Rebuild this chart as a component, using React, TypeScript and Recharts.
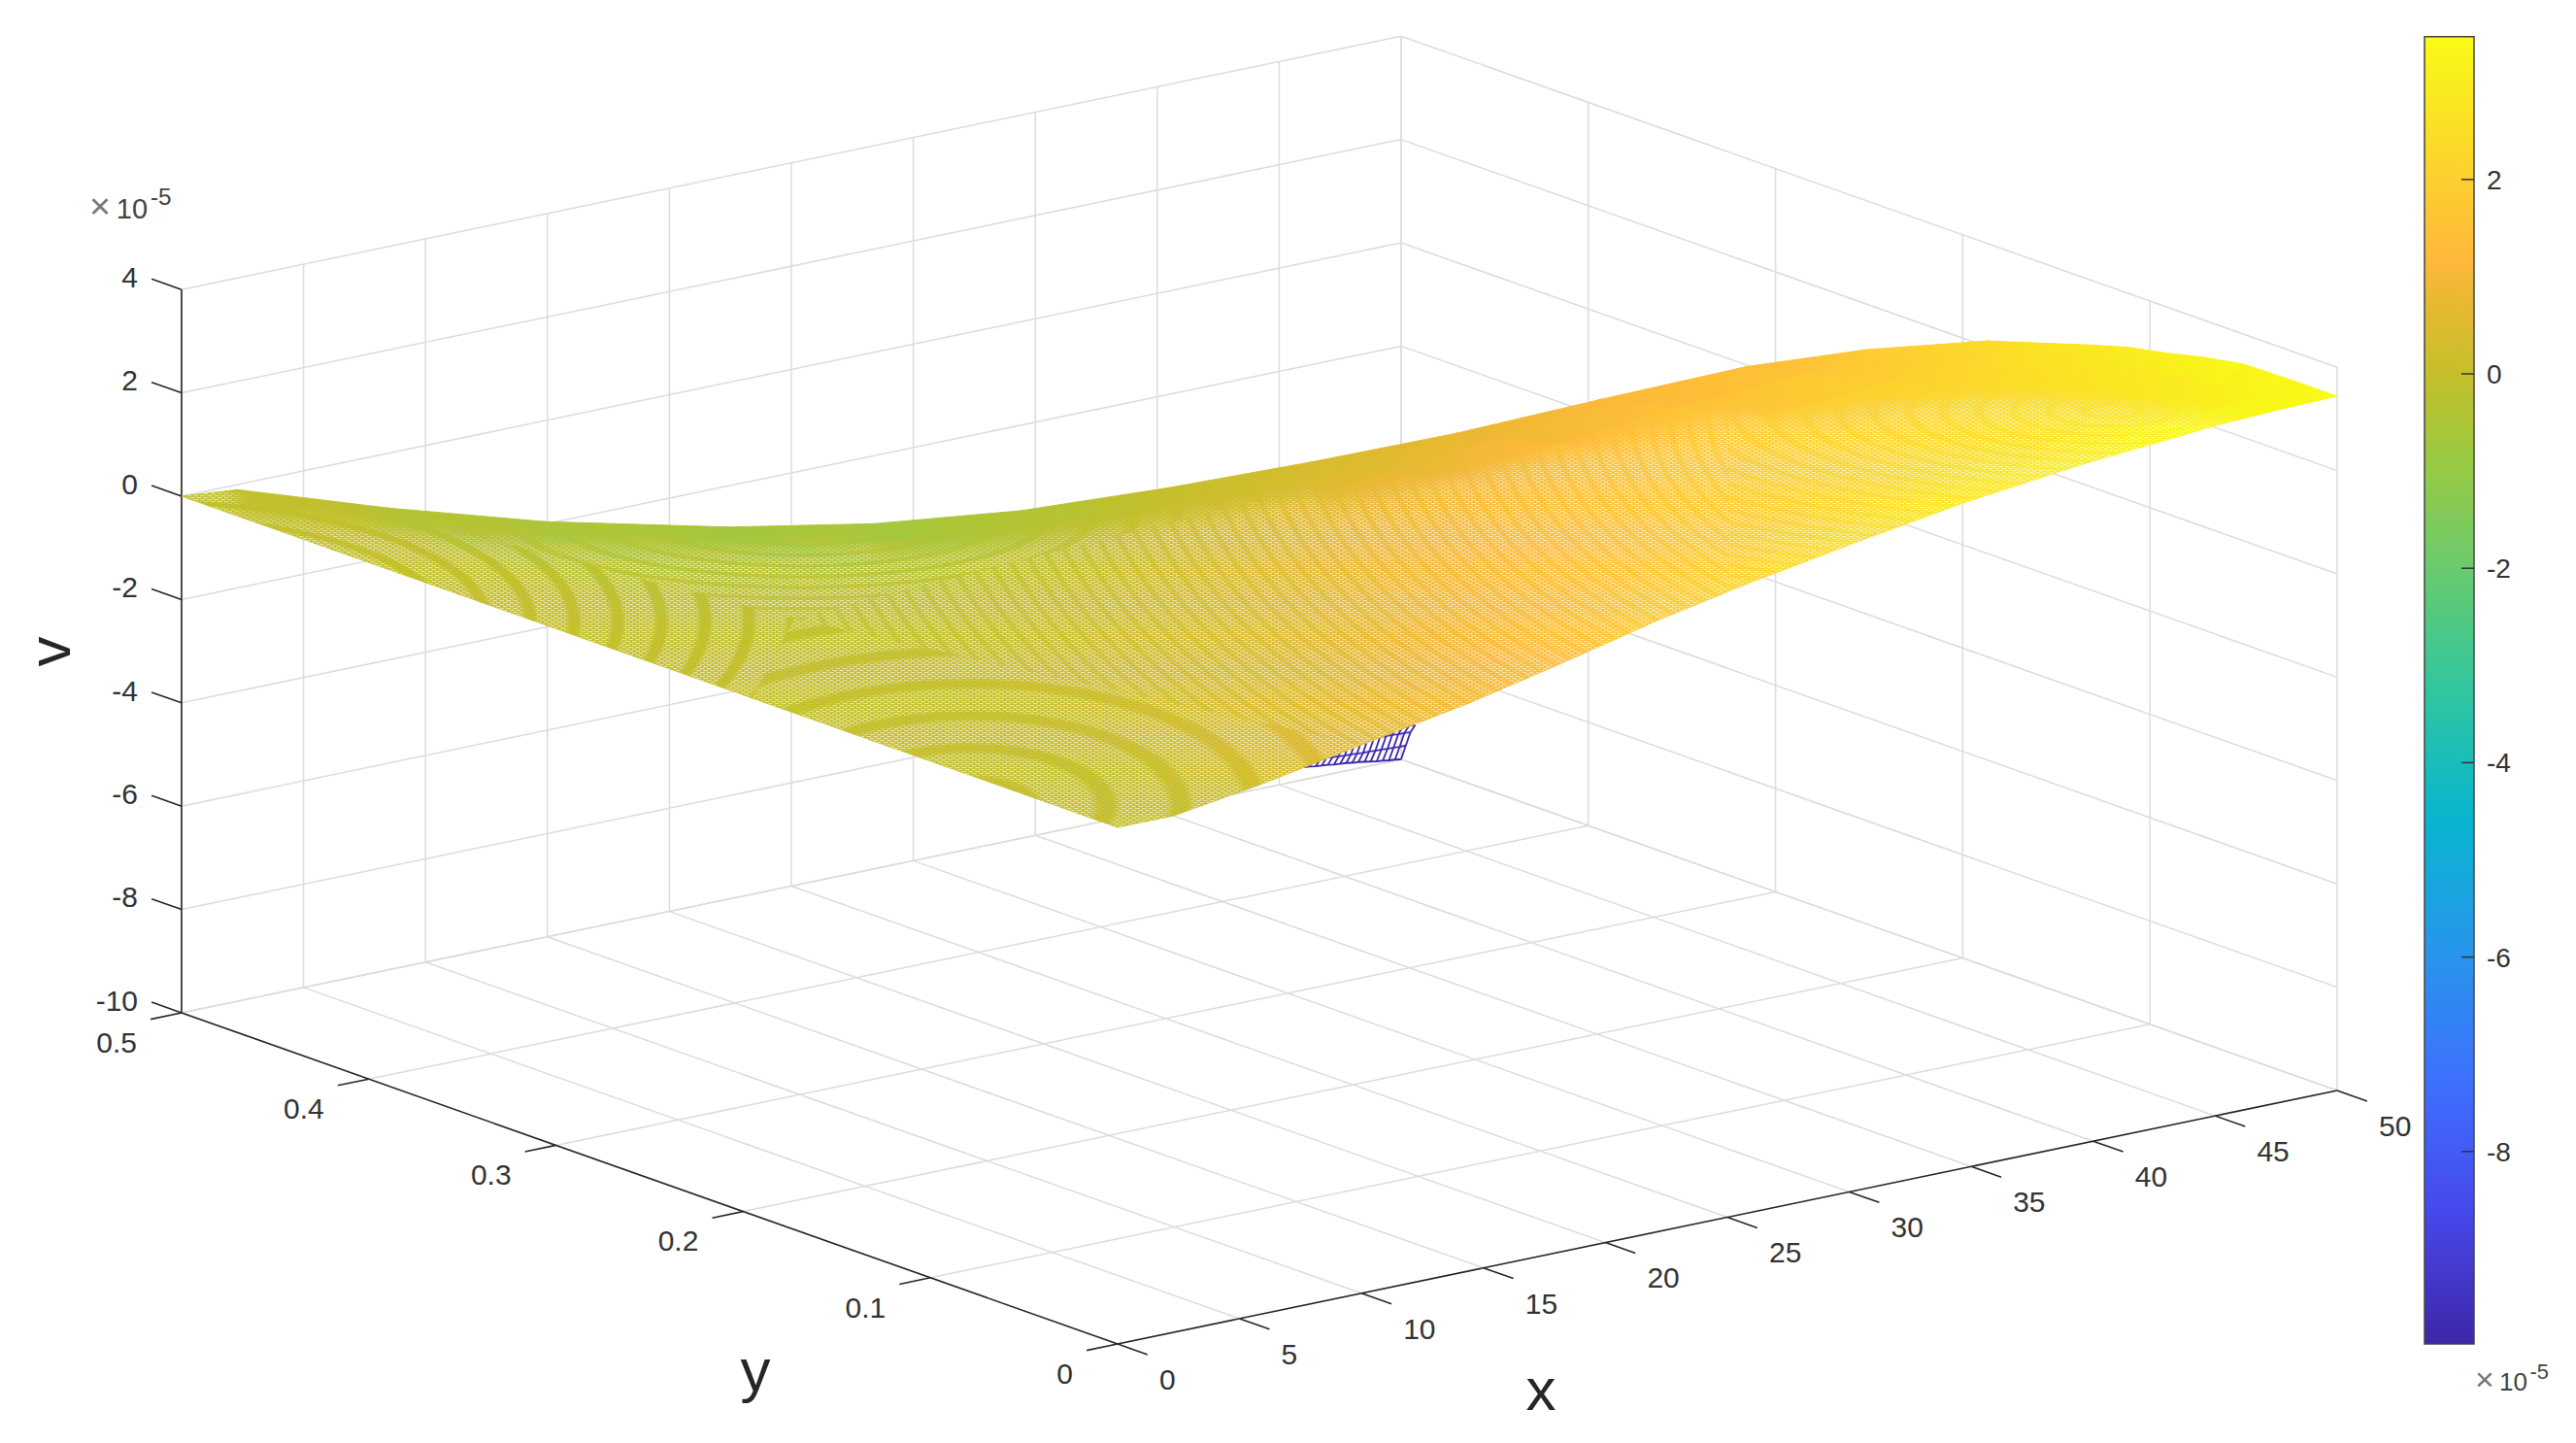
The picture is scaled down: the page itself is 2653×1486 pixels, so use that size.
import { ComposedChart, Line, ReferenceArea, Scatter, XAxis, YAxis } from "recharts";

const W = 2653;
const H = 1486;
const FONT = "'Liberation Sans', Arial, sans-serif";

const xTicks = [0, 5, 10, 15, 20, 25, 30, 35, 40, 45, 50];
const yTicks = [0, 0.1, 0.2, 0.3, 0.4, 0.5];
const vTicks = [-10, -8, -6, -4, -2, 0, 2, 4];
const colorbarTicks = [2, 0, -2, -4, -6, -8];

// surface samples, v in 1e-5. each row stops where the surface folds out of sight
const gridX = [0, 2.3, 5.8, 9.6, 14.5, 18.3, 22.1, 26, 30.3, 34.7, 39.6, 45, 47.4, 48.9, 50];
const gridY = [0, 0.025, 0.05, 0.071, 0.092, 0.111, 0.131, 0.173, 0.218, 0.25, 0.2575, 0.271, 0.292, 0.313, 0.34, 0.369, 0.397, 0.431, 0.465, 0.5];
const vRow00 = [0, 0, 0.25, 0.58, 1, 1.4, 1.83, 2.2, 2.55, 2.88, 3.15, 3.36, 3.41, 3.43, 3.44];
const vRow01 = [0, 0, 0.2, 0.49, 0.85, 1.2, 1.6, 1.95, 2.28, 2.6, 2.87, 3.07, 3.17, 3.25, 3.44];
const vRow02 = [0, 0, 0.16, 0.4, 0.7, 1.01, 1.37, 1.71, 2.02, 2.33, 2.6, 2.78, 2.93, 3.07, 3.42];
const vRow03 = [0, 0, 0.12, 0.32, 0.59, 0.88, 1.23, 1.57, 1.88, 2.2, 2.47, 2.65, 2.81, 2.98, 3.28];
const vRow04 = [0, 0, 0.08, 0.25, 0.49, 0.75, 1.09, 1.43, 1.75, 2.07, 2.34, 2.53, 2.7, 2.89, 3.1];
const vRow05 = [0, 0, 0.06, 0.2, 0.42, 0.67, 0.99, 1.33, 1.64, 1.95, 2.22, 2.41, 2.6, 2.82, 2.96];
const vRow06 = [0, 0, 0.05, 0.16, 0.35, 0.59, 0.9, 1.23, 1.53, 1.84, 2.11, 2.3, 2.51, 2.76, 2.75];
const vRow07 = [0, 0, 0, 0.09, 0.22, 0.42, 0.69, 1, 1.27, 1.57, 1.82, 1.98, 2.17, 2.4];
const vRow08 = [0, 0, -0.04, 0.01, 0.08, 0.21, 0.46, 0.73, 0.97, 1.2, 1.44, 1.57, 1.8];
const vRow09 = [0, 0, -0.07, -0.06, -0.04, 0.06, 0.25, 0.48, 0.68, 0.9, 1.14, 1.3];
const vRow10 = [0, 0, -0.08, -0.08, -0.07, 0.01, 0.2, 0.42, 0.61, 0.85, 1.1];
const vRow11 = [0, 0, -0.09, -0.11, -0.12, -0.06, 0.09, 0.31, 0.5, 0.75];
const vRow12 = [0, -0.01, -0.12, -0.16, -0.21, -0.18, -0.07, 0.13, 0.35];
const vRow13 = [0, -0.02, -0.14, -0.21, -0.31, -0.32, -0.24, 0];
const vRow14 = [0, -0.02, -0.17, -0.29, -0.45, -0.51, -0.4];
const vRow15 = [0, -0.03, -0.21, -0.38, -0.6, -0.65];
const vRow16 = [0, -0.04, -0.26, -0.47, -0.7];
const vRow17 = [0, -0.05, -0.31, -0.55];
const vRow18 = [0, -0.07, -0.35];
const vRow19 = [0, -0.1];
const surfaceRows = [vRow00, vRow01, vRow02, vRow03, vRow04, vRow05, vRow06, vRow07, vRow08, vRow09, vRow10, vRow11, vRow12, vRow13, vRow14, vRow15, vRow16, vRow17, vRow18, vRow19];

// the dip at the far corner, the blue bit showing under the surface
const cornerX = [46, 46.25, 46.5, 46.75, 47, 47.25, 47.5, 47.75, 48, 48.25, 48.5, 48.75, 49, 49.25, 49.5, 49.75, 50];
const cornerY = [0.5, 0.4975, 0.495, 0.4925];
const cornerV500 = [-9.76, -9.77, -9.79, -9.8, -9.81, -9.83, -9.84, -9.85, -9.87, -9.88, -9.9, -9.92, -9.94, -9.95, -9.97, -9.98, -10];
const cornerV4975 = [-9.6, -9.61, -9.62, -9.62, -9.63, -9.64, -9.65, -9.65, -9.66, -9.67, -9.67, -9.68, -9.68, -9.69, -9.69, -9.7, -9.7];
const cornerV495 = [-9.3, -9.31, -9.32, -9.33, -9.34, -9.35, -9.35, -9.36, -9.37, -9.37, -9.38, -9.38, -9.39, -9.39, -9.4, -9.4, -9.41];
const cornerV4925 = [-9.05, -9.06, -9.07, -9.08, -9.09, -9.1, -9.11, -9.12, -9.13, -9.14, -9.15, -9.17, -9.18, -9.2, -9.21, -9.23, -9.24];
const cornerRows = [cornerV500, cornerV4975, cornerV495, cornerV4925];

const colorFracs = [0, 0.1, 0.2, 0.3, 0.4, 0.5, 0.6, 0.68, 0.742, 0.8, 0.83, 0.89, 1];
const colorHex = ["#3e26a8", "#4748eb", "#3e70fe", "#2896eb", "#08b5d0", "#31c69f", "#6dcb6a", "#9cc940", "#c4bf2a", "#eab832", "#ffb93a", "#fccf30", "#f9fb15"];

const V_MIN = -9.98;
const V_MAX = 3.47;

const hexToRgb = (h: string) => [1, 3, 5].map((i) => parseInt(h.slice(i, i + 2), 16));

function colorOf(v: number) {
  const f = Math.min(1, Math.max(0, (v - V_MIN) / (V_MAX - V_MIN)));
  let i = 0;
  while (i < colorFracs.length - 2 && f > colorFracs[i + 1]) i++;
  const t = (f - colorFracs[i]) / (colorFracs[i + 1] - colorFracs[i]);
  const a = hexToRgb(colorHex[i]);
  const b = hexToRgb(colorHex[i + 1]);
  return `rgb(${a.map((c, k) => Math.round(c + (b[k] - c) * t)).join(",")})`;
}

// the fixed 3d view of the axes, orthographic
const project = (x: number, y: number, v: number) => ({
  sx: 1151 + 25.12 * x - 1928 * y,
  sy: 852 - 5.22 * x - 682 * y - 53.2 * v,
});
const colorbarY = (v: number) => 385 - 100.1 * v;

const seg = (a: number[], b: number[]) => [project(a[0], a[1], a[2]), project(b[0], b[1], b[2])];

const gridLines = [
  ...xTicks.flatMap((x) => [seg([x, 0.5, -10], [x, 0.5, 4]), seg([x, 0, -10], [x, 0.5, -10])]),
  ...yTicks.flatMap((y) => [seg([50, y, -10], [50, y, 4]), seg([0, y, -10], [50, y, -10])]),
  ...vTicks.flatMap((v) => [seg([0, 0.5, v], [50, 0.5, v]), seg([50, 0.5, v], [50, 0, v])]),
];

const axisLines = [
  seg([0, 0.5, -10], [0, 0.5, 4]),
  seg([0, 0, -10], [0, 0.5, -10]),
  seg([0, 0, -10], [50, 0, -10]),
  ...vTicks.map((v) => seg([0, 0.5, v], [0, 0.516, v])),
  ...yTicks.map((y) => seg([0, y, -10], [-1.27, y, -10])),
  ...xTicks.map((x) => seg([x, 0, -10], [x, -0.016, -10])),
];

const colorbarTickLines = colorbarTicks.map((v) => [
  { sx: 2535, sy: colorbarY(v) },
  { sx: 2548, sy: colorbarY(v) },
]);

const vLabels = vTicks.map((v) => {
  const p = project(0, 0.5, v);
  return { sx: p.sx - 45, sy: p.sy - 13, text: String(v) };
});
const yLabels = yTicks.map((y) => {
  const p = project(0, y, -10);
  return { sx: p.sx - 46, sy: p.sy + 30, text: String(y) };
});
const xLabels = xTicks.map((x) => {
  const p = project(x, 0, -10);
  return { sx: p.sx + 43, sy: p.sy + 36, text: String(x) };
});
const colorbarLabels = colorbarTicks.map((v) => ({ sx: 2561, sy: colorbarY(v), text: String(v) }));

const colorbarStops = colorFracs.map((f, i) => ({ offset: 1 - f, color: colorHex[i] })).reverse();

// the fold line of the surface on screen: last sample of every row
const ridge = surfaceRows.map((row, j) => project(gridX[row.length - 1], gridY[j], row[row.length - 1]));
const ridgePoints = (from: number, to: number) =>
  ridge.slice(from, to).map((p) => `${p.sx},${p.sy}`).join(" ");

type Corner = { sx: number; sy: number; v: number };

function buildCells() {
  const cells: any[] = [];
  for (let j = gridY.length - 2; j >= 0; j--) {
    for (let i = surfaceRows[j].length - 2; i >= 0; i--) {
      const near = surfaceRows[j];
      const far = surfaceRows[j + 1];
      if (i >= far.length) continue;
      const raw = [
        [gridX[i], gridY[j], near[i]],
        [gridX[i + 1], gridY[j], near[i + 1]],
        ...(i + 1 < far.length ? [[gridX[i + 1], gridY[j + 1], far[i + 1]]] : []),
        [gridX[i], gridY[j + 1], far[i]],
      ];
      const corners: Corner[] = raw.map((c) => ({ ...project(c[0], c[1], c[2]), v: c[2] }));
      const sx = corners.reduce((s, c) => s + c.sx, 0) / corners.length;
      const sy = corners.reduce((s, c) => s + c.sy, 0) / corners.length;
      cells.push({ id: `c${j}_${i}`, sx, sy, corners });
    }
  }
  return cells;
}
const surfaceCells = buildCells();

const cellPoints = (props: any): Corner[] =>
  props.payload.corners.map((c: Corner) => ({
    sx: props.cx + c.sx - props.payload.sx,
    sy: props.cy + c.sy - props.payload.sy,
    v: c.v,
  }));

function SurfaceCell(props: any) {
  const pts = cellPoints(props);
  const lo = pts.reduce((a, b) => (b.v < a.v ? b : a));
  const hi = pts.reduce((a, b) => (b.v > a.v ? b : a));
  const gid = `g_${props.payload.id}`;
  const fill = lo.v === hi.v ? colorOf(lo.v) : `url(#${gid})`;
  return (
    <g>
      <defs>
        <linearGradient id={gid} gradientUnits="userSpaceOnUse" x1={lo.sx} y1={lo.sy} x2={hi.sx} y2={hi.sy}>
          <stop offset="0" stopColor={colorOf(lo.v)} />
          <stop offset="1" stopColor={colorOf(hi.v)} />
        </linearGradient>
      </defs>
      <polygon points={pts.map((p) => `${p.sx},${p.sy}`).join(" ")} fill={fill} stroke={fill} strokeWidth={1} />
    </g>
  );
}

// white specks between the mesh lines, masked below into the moire bands
function GapCell(props: any) {
  const pts = cellPoints(props);
  return <polygon points={pts.map((p) => `${p.sx},${p.sy}`).join(" ")} fill="url(#meshGaps)" />;
}

function Rings({ id, cx, cy, period, ratio, low = 0 }: { id: string; cx: number; cy: number; period: number; ratio: number; low?: number }) {
  const g = Math.round(low * 255);
  const dark = `rgb(${g},${g},${g})`;
  return (
    <radialGradient
      id={id}
      gradientUnits="userSpaceOnUse"
      cx={0}
      cy={0}
      r={period}
      spreadMethod="repeat"
      gradientTransform={`translate(${cx} ${cy}) scale(1 ${ratio})`}
    >
      <stop offset="0" stopColor="#ffffff" />
      <stop offset="0.6" stopColor="#ffffff" />
      <stop offset="0.72" stopColor={dark} />
      <stop offset="0.9" stopColor={dark} />
      <stop offset="1" stopColor="#ffffff" />
    </radialGradient>
  );
}

function makeLabel(size: number, anchor: string, color = "#333333") {
  return (props: any) => (
    <text x={props.cx} y={props.cy + size * 0.36} fontSize={size} fontFamily={FONT} fill={color} textAnchor={anchor}>
      {props.payload.text}
    </text>
  );
}

function Exponent({ x, y, size }: { x: number; y: number; size: number }) {
  return (
    <text x={x} y={y} fontFamily={FONT} fill="#444444" fontSize={size}>
      <tspan fill="#777777" fontSize={size * 1.3}>×</tspan>
      <tspan dx={size * 0.2}>10</tspan>
      <tspan dx={size * 0.1} dy={-size * 0.48} fontSize={size * 0.84}>-5</tspan>
    </text>
  );
}

export default function App() {
  return (
    <div style={{ position: "absolute", left: 0, top: 0, width: W, height: H, background: "#ffffff" }}>
      <style>{".meshGapLayer{mask:url(#moire)}"}</style>
      <ComposedChart width={W} height={H} margin={{ top: 0, right: 0, bottom: 0, left: 0 }}>
        <defs>
          <pattern id="meshGaps" patternUnits="userSpaceOnUse" width={7} height={4}>
            <rect x={0} y={0} width={4.5} height={1.2} fill="#ffffff" fillOpacity={0.6} />
            <rect x={3.5} y={2} width={3.5} height={1.2} fill="#ffffff" fillOpacity={0.6} />
            <rect x={0} y={2} width={1} height={1.2} fill="#ffffff" fillOpacity={0.6} />
          </pattern>
          <linearGradient id="parula" x1="0" y1="0" x2="0" y2="1">
            {colorbarStops.map((s) => (
              <stop key={s.offset} offset={s.offset} stopColor={s.color} />
            ))}
          </linearGradient>
          {Rings({ id: "ringsLeft", cx: 150, cy: 640, period: 45, ratio: 0.35, low: 0.1 })}
          {Rings({ id: "ringsTop", cx: 825, cy: 530, period: 44, ratio: 0.25, low: 0.35 })}
          {Rings({ id: "ringsBottom", cx: 1000, cy: 830, period: 77, ratio: 0.43, low: 0.2 })}
          {Rings({ id: "ringsRight", cx: 2175, cy: 423, period: 20, ratio: 0.5, low: 0.45 })}
          {Rings({ id: "ringsFar", cx: 2175, cy: 423, period: 36, ratio: 0.25, low: 0.5 })}
          <filter id="ridgeBlur" x="-10%" y="-30%" width="120%" height="160%">
            <feGaussianBlur stdDeviation={9} />
          </filter>
          <mask id="moire" maskUnits="userSpaceOnUse" x={0} y={0} width={W} height={H}>
            <polygon points="818,637 100,450 100,1000 650,957" fill="url(#ringsLeft)" />
            <polygon points="818,637 100,450 100,300 1400,300 1400,488" fill="url(#ringsTop)" />
            <polygon points="818,637 650,957 1900,957 1900,878" fill="url(#ringsBottom)" />
            <polygon points="818,637 1400,488 1400,300 1780,300 1780,851" fill="url(#ringsRight)" />
            <polygon points="1780,300 2500,300 2500,900 1900,878 1780,851" fill="url(#ringsFar)" />
            <g filter="url(#ridgeBlur)" fill="none" stroke="#000000" strokeLinejoin="round">
              <polyline points={ridgePoints(15, 20)} strokeWidth={48} />
              <polyline points={ridgePoints(12, 16)} strokeWidth={66} />
              <polyline points={ridgePoints(9, 13)} strokeWidth={92} />
              <polyline points={ridgePoints(0, 10)} strokeWidth={120} />
            </g>
          </mask>
        </defs>

        <XAxis type="number" dataKey="sx" domain={[0, W]} hide allowDataOverflow />
        <YAxis type="number" dataKey="sy" domain={[0, H]} reversed hide allowDataOverflow />

        {gridLines.map((d, i) => (
          <Line key={`grid${i}`} data={d} dataKey="sy" stroke="#dcdcdc" strokeWidth={1.5} dot={false} isAnimationActive={false} legendType="none" />
        ))}

        {cornerRows.map((row, j) => (
          <Line
            key={`cr${j}`}
            data={row.map((v, i) => project(cornerX[i], cornerY[j], v))}
            dataKey="sy"
            stroke={colorOf(row[row.length - 1])}
            strokeWidth={1.8}
            dot={false}
            isAnimationActive={false}
            legendType="none"
          />
        ))}
        {cornerX.map((x, i) => (
          <Line
            key={`cc${i}`}
            data={cornerY.map((y, j) => project(x, y, cornerRows[j][i]))}
            dataKey="sy"
            stroke={colorOf(cornerRows[0][i])}
            strokeWidth={1.8}
            dot={false}
            isAnimationActive={false}
            legendType="none"
          />
        ))}

        <Scatter data={surfaceCells} dataKey="sy" shape={SurfaceCell} isAnimationActive={false} legendType="none" />
        <Scatter className="meshGapLayer" data={surfaceCells} dataKey="sy" shape={GapCell} isAnimationActive={false} legendType="none" />

        {axisLines.map((d, i) => (
          <Line key={`axis${i}`} data={d} dataKey="sy" stroke="#262626" strokeWidth={1.6} dot={false} isAnimationActive={false} legendType="none" />
        ))}

        <ReferenceArea x1={2497} x2={2548} y1={colorbarY(V_MAX)} y2={colorbarY(V_MIN)} fill="url(#parula)" fillOpacity={1} stroke="#444444" strokeWidth={1.5} />
        {colorbarTickLines.map((d, i) => (
          <Line key={`cb${i}`} data={d} dataKey="sy" stroke="#333333" strokeWidth={1.5} dot={false} isAnimationActive={false} legendType="none" />
        ))}

        <Scatter data={vLabels} dataKey="sy" shape={makeLabel(30, "end")} isAnimationActive={false} legendType="none" />
        <Scatter data={yLabels} dataKey="sy" shape={makeLabel(30, "end")} isAnimationActive={false} legendType="none" />
        <Scatter data={xLabels} dataKey="sy" shape={makeLabel(30, "start")} isAnimationActive={false} legendType="none" />
        <Scatter data={colorbarLabels} dataKey="sy" shape={makeLabel(28, "start")} isAnimationActive={false} legendType="none" />

        <text x={50} y={671} fontFamily={FONT} fontSize={62} fill="#262626" textAnchor="middle" dominantBaseline="central" transform="rotate(-90 50 671)">v</text>
        <text x={778} y={1432} fontFamily={FONT} fontSize={62} fill="#262626" textAnchor="middle">y</text>
        <text x={1587} y={1452} fontFamily={FONT} fontSize={62} fill="#262626" textAnchor="middle">x</text>
        <Exponent x={92} y={225} size={29} />
        <Exponent x={2549} y={1432} size={26} />
      </ComposedChart>
    </div>
  );
}
